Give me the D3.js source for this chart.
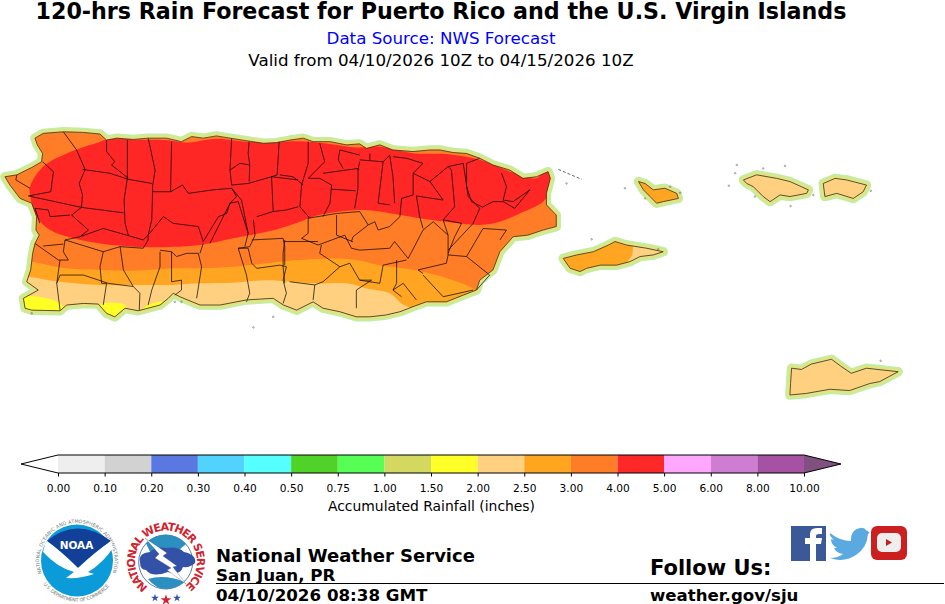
<!DOCTYPE html>
<html>
<meta charset="utf-8">
<title>120-hrs Rain Forecast for Puerto Rico and the U.S. Virgin Islands</title>
<style>
	body { margin: 0; background-color: #ffffff; }
	svg { display: block; }
	text { font-family: "DejaVu Sans", sans-serif; }
	.bold { font-weight: bold; }
	.tick text { font-size: 10.6px; }
</style>

<body>
	<div id="chart"></div>
</body>

<script src="https://d3js.org/d3.v7.min.js"></script>
<script>

	// Rainfall classes for the colorbar
	var tickLabels = ["0.00","0.10","0.20","0.30","0.40","0.50","0.75","1.00","1.50","2.00","2.50","3.00","4.00","5.00","6.00","8.00","10.00"];
	var classColors = ["#eeeeee","#d2d2d2","#5a78e2","#52d2ff","#55ffff","#50d228","#55ff55","#d2d860","#ffff28","#ffd080","#ffa520","#ff7d26","#ff2828","#ffa6ff","#cf7dd2","#a552a5"];
	var overColor = "#805080";

	// Coastlines, lon/lat
	var coastPR = [[-67.261,18.374],[-67.225,18.380],[-67.180,18.403],[-67.150,18.421],[-67.147,18.447],[-67.163,18.474],[-67.170,18.495],[-67.145,18.510],[-67.084,18.515],[-67.023,18.513],[-66.973,18.508],[-66.953,18.489],[-66.922,18.495],[-66.872,18.491],[-66.827,18.495],[-66.771,18.495],[-66.726,18.484],[-66.695,18.500],[-66.660,18.495],[-66.620,18.502],[-66.579,18.495],[-66.529,18.487],[-66.478,18.479],[-66.438,18.481],[-66.397,18.489],[-66.357,18.495],[-66.327,18.484],[-66.276,18.484],[-66.226,18.474],[-66.186,18.477],[-66.165,18.463],[-66.125,18.474],[-66.085,18.458],[-66.024,18.453],[-65.973,18.458],[-65.943,18.458],[-65.903,18.450],[-65.862,18.447],[-65.822,18.432],[-65.782,18.411],[-65.731,18.395],[-65.691,18.369],[-65.650,18.374],[-65.615,18.390],[-65.608,18.369],[-65.620,18.322],[-65.620,18.286],[-65.590,18.254],[-65.590,18.218],[-65.630,18.207],[-65.676,18.191],[-65.721,18.186],[-65.761,18.139],[-65.782,18.082],[-65.822,18.050],[-65.832,18.019],[-65.872,18.003],[-65.923,17.982],[-65.984,17.982],[-66.024,17.967],[-66.064,17.951],[-66.105,17.941],[-66.155,17.935],[-66.196,17.935],[-66.246,17.951],[-66.297,17.962],[-66.327,17.982],[-66.377,17.956],[-66.417,17.972],[-66.448,17.993],[-66.529,17.988],[-66.609,17.972],[-66.670,17.972],[-66.731,17.998],[-66.751,18.009],[-66.766,17.993],[-66.791,17.972],[-66.857,17.954],[-66.897,17.962],[-66.928,17.935],[-66.953,17.946],[-66.978,17.975],[-67.023,17.977],[-67.074,17.972],[-67.094,17.954],[-67.180,17.956],[-67.200,17.962],[-67.205,17.993],[-67.160,18.019],[-67.195,18.045],[-67.183,18.082],[-67.177,18.134],[-67.170,18.165],[-67.157,18.191],[-67.167,18.207],[-67.165,18.249],[-67.180,18.291],[-67.215,18.306],[-67.246,18.348]];
	var coastVieques = [[-65.569,18.118],[-65.528,18.129],[-65.478,18.139],[-65.432,18.160],[-65.412,18.171],[-65.377,18.160],[-65.316,18.150],[-65.266,18.139],[-65.296,18.129],[-65.336,18.124],[-65.367,18.108],[-65.407,18.097],[-65.457,18.097],[-65.498,18.087],[-65.518,18.077],[-65.548,18.087]];
	var coastCulebra = [[-65.341,18.359],[-65.321,18.353],[-65.296,18.333],[-65.261,18.338],[-65.225,18.322],[-65.220,18.306],[-65.266,18.296],[-65.286,18.291],[-65.306,18.312],[-65.326,18.333]];
	var coastStThomas = [[-65.023,18.364],[-64.983,18.380],[-64.922,18.369],[-64.882,18.359],[-64.826,18.333],[-64.831,18.322],[-64.882,18.312],[-64.912,18.317],[-64.942,18.296],[-64.963,18.312],[-64.993,18.343],[-65.013,18.353]];
	var coastStJohn = [[-64.781,18.353],[-64.745,18.369],[-64.710,18.364],[-64.650,18.348],[-64.660,18.327],[-64.690,18.306],[-64.740,18.322],[-64.776,18.312]];
	var coastStCroix = [[-64.877,17.774],[-64.847,17.770],[-64.817,17.787],[-64.756,17.802],[-64.726,17.779],[-64.696,17.758],[-64.650,17.774],[-64.554,17.763],[-64.610,17.732],[-64.640,17.726],[-64.701,17.704],[-64.761,17.708],[-64.832,17.695],[-64.882,17.690],[-64.880,17.726]];

	// Forecast rain areas, lon/lat contours
	var rain5to4 = [[-67.185,18.343],[-67.145,18.406],[-67.074,18.447],[-66.973,18.484],[-66.933,18.497],[-66.872,18.491],[-66.771,18.489],[-66.710,18.481],[-66.620,18.493],[-66.519,18.483],[-66.367,18.485],[-66.276,18.477],[-66.196,18.466],[-66.125,18.468],[-66.024,18.448],[-65.923,18.445],[-65.822,18.427],[-65.721,18.387],[-65.650,18.369],[-65.620,18.395],[-65.600,18.370],[-65.610,18.327],[-65.630,18.296],[-65.701,18.259],[-65.761,18.233],[-65.822,18.223],[-65.923,18.233],[-66.004,18.244],[-66.064,18.254],[-66.125,18.265],[-66.175,18.270],[-66.246,18.265],[-66.327,18.249],[-66.367,18.233],[-66.428,18.212],[-66.468,18.202],[-66.569,18.181],[-66.670,18.160],[-66.791,18.153],[-66.872,18.155],[-66.963,18.163],[-67.054,18.181],[-67.124,18.207],[-67.165,18.249],[-67.185,18.317]];
	var rain3to4 = [[-67.260,18.111],[-67.185,18.108],[-67.074,18.087],[-66.973,18.082],[-66.852,18.080],[-66.751,18.087],[-66.670,18.087],[-66.569,18.092],[-66.468,18.103],[-66.428,18.108],[-66.367,18.113],[-66.276,18.118],[-66.196,18.113],[-66.125,18.097],[-66.054,18.087],[-65.973,18.071],[-65.903,18.050],[-65.842,18.024],[-65.810,17.990],[-65.900,17.880],[-67.260,17.880]];
	var rain2to3 = [[-67.260,18.066],[-67.190,18.061],[-67.094,18.045],[-66.973,18.035],[-66.852,18.035],[-66.751,18.035],[-66.670,18.040],[-66.569,18.042],[-66.468,18.050],[-66.327,18.040],[-66.226,18.040],[-66.165,18.024],[-66.095,18.009],[-66.059,17.977],[-66.024,17.956],[-66.000,17.880],[-67.260,17.880]];
	var rainYellow = [
		[[-67.225,17.993],[-67.094,17.977],[-67.080,17.930],[-67.225,17.930]],
		[[-66.973,17.972],[-66.897,17.972],[-66.892,17.935],[-66.973,17.925]],
		[[-66.842,17.962],[-66.781,17.982],[-66.781,17.956],[-66.842,17.935]]
	];
	var rainViequesEast = [[-65.350,18.180],[-65.200,18.180],[-65.200,18.080],[-65.380,18.090],[-65.360,18.130]];

	// Municipality borders, lon/lat
	var countyLines = [
		[[-67.084,18.515],[-67.044,18.458],[-67.018,18.397],[-67.036,18.353],[-67.026,18.317],[-67.029,18.278],[-67.059,18.254],[-67.008,18.207]],
		[[-67.147,18.421],[-67.114,18.390],[-67.122,18.327],[-67.190,18.314]],
		[[-67.225,18.380],[-67.228,18.364],[-67.185,18.338]],
		[[-67.026,18.397],[-66.943,18.385],[-66.887,18.366],[-66.816,18.353]],
		[[-66.953,18.489],[-66.953,18.453],[-66.928,18.421],[-66.938,18.411],[-66.912,18.390],[-66.887,18.369]],
		[[-66.890,18.489],[-66.890,18.369],[-66.900,18.301],[-66.897,18.228],[-66.887,18.191]],
		[[-66.827,18.495],[-66.806,18.395],[-66.813,18.348],[-66.816,18.239],[-66.827,18.191],[-66.827,18.176]],
		[[-66.756,18.484],[-66.759,18.327],[-66.723,18.348],[-66.705,18.322],[-66.630,18.333],[-66.574,18.338]],
		[[-66.813,18.327],[-66.759,18.327]],
		[[-66.574,18.495],[-66.579,18.395],[-66.574,18.348],[-66.524,18.353],[-66.453,18.374]],
		[[-66.521,18.484],[-66.524,18.447],[-66.519,18.411],[-66.549,18.416],[-66.579,18.395]],
		[[-66.519,18.411],[-66.521,18.359]],
		[[-66.430,18.484],[-66.436,18.380],[-66.453,18.374],[-66.448,18.265],[-66.408,18.270],[-66.372,18.280]],
		[[-66.453,18.374],[-66.372,18.364]],
		[[-67.190,18.314],[-67.029,18.278],[-66.902,18.261]],
		[[-67.170,18.275],[-67.130,18.270],[-67.124,18.249],[-67.064,18.254]],
		[[-67.170,18.275],[-67.155,18.228]],
		[[-67.034,18.186],[-66.963,18.212],[-66.892,18.191],[-66.842,18.176],[-66.827,18.191],[-66.781,18.249],[-66.751,18.228],[-66.675,18.218],[-66.660,18.171]],
		[[-67.008,18.207],[-67.034,18.186],[-67.079,18.176],[-67.084,18.139],[-67.069,18.113],[-67.099,18.113],[-67.170,18.165]],
		[[-67.145,18.157],[-67.084,18.163]],
		[[-67.079,18.176],[-66.963,18.139],[-66.912,18.155],[-66.842,18.150],[-66.827,18.176]],
		[[-66.963,18.139],[-66.973,18.092],[-66.968,18.040],[-66.953,18.040],[-66.963,17.972]],
		[[-66.912,18.155],[-66.902,18.082],[-66.872,18.030],[-66.852,18.009],[-66.854,17.956]],
		[[-67.094,18.113],[-67.104,18.040],[-67.094,17.956]],
		[[-67.104,18.040],[-67.094,18.066],[-67.023,18.066],[-66.948,18.040],[-66.872,18.030]],
		[[-66.791,18.139],[-66.791,18.092],[-66.816,18.019],[-66.827,17.972]],
		[[-66.756,18.139],[-66.756,18.045],[-66.726,18.050],[-66.726,18.019],[-66.746,18.003]],
		[[-66.791,18.144],[-66.756,18.139],[-66.741,18.124],[-66.710,18.134],[-66.675,18.134],[-66.665,18.092],[-66.680,17.993]],
		[[-66.660,18.165],[-66.670,18.134]],
		[[-66.554,18.150],[-66.529,18.066],[-66.519,18.009],[-66.529,17.982]],
		[[-66.660,18.171],[-66.614,18.249],[-66.589,18.259],[-66.579,18.291],[-66.554,18.296],[-66.524,18.197],[-66.534,18.155]],
		[[-66.574,18.338],[-66.544,18.301],[-66.524,18.197]],
		[[-66.574,18.338],[-66.559,18.312],[-66.579,18.291],[-66.640,18.165]],
		[[-66.508,18.239],[-66.503,18.191],[-66.519,18.155],[-66.554,18.150],[-66.524,18.150],[-66.513,18.103],[-66.498,18.087],[-66.428,18.097],[-66.408,18.092],[-66.418,18.050],[-66.408,18.009],[-66.418,17.977]],
		[[-66.498,18.249],[-66.448,18.265]],
		[[-66.513,18.176],[-66.418,18.181],[-66.413,18.155],[-66.413,18.097]],
		// eastern half
		[[-66.342,18.484],[-66.342,18.416],[-66.362,18.348],[-66.367,18.280],[-66.337,18.244]],
		[[-66.428,18.380],[-66.388,18.374],[-66.357,18.348]],
		[[-66.307,18.479],[-66.292,18.421],[-66.342,18.369],[-66.307,18.369],[-66.271,18.348],[-66.276,18.291],[-66.297,18.249]],
		[[-66.297,18.385],[-66.191,18.400],[-66.191,18.338],[-66.201,18.275]],
		[[-66.271,18.335],[-66.198,18.330]],
		[[-66.246,18.458],[-66.251,18.427],[-66.236,18.400]],
		[[-66.246,18.458],[-66.186,18.442]],
		[[-66.186,18.421],[-66.191,18.395]],
		[[-66.186,18.427],[-66.115,18.421],[-66.130,18.291],[-66.095,18.286]],
		[[-66.115,18.421],[-66.095,18.442],[-66.085,18.374],[-66.080,18.291]],
		[[-66.155,18.447],[-66.155,18.427]],
		[[-66.085,18.437],[-66.044,18.432],[-65.994,18.416],[-66.024,18.385],[-66.024,18.317],[-66.059,18.306],[-66.064,18.249],[-66.095,18.218],[-66.130,18.207],[-66.140,18.233],[-66.160,18.223],[-66.186,18.265]],
		[[-66.024,18.385],[-65.973,18.359],[-65.933,18.301],[-66.014,18.314],[-66.004,18.249],[-65.994,18.212]],
		[[-65.918,18.406],[-65.872,18.416],[-65.857,18.312],[-65.822,18.275],[-65.842,18.228],[-65.918,18.144]],
		[[-65.973,18.359],[-65.918,18.406],[-65.908,18.396],[-65.898,18.280],[-65.933,18.239],[-65.918,18.191]],
		[[-65.933,18.239],[-65.877,18.228],[-65.898,18.186],[-65.918,18.134]],
		[[-65.822,18.432],[-65.862,18.416],[-65.862,18.343],[-65.847,18.296],[-65.812,18.278]],
		[[-65.812,18.280],[-65.782,18.296],[-65.751,18.296],[-65.716,18.275],[-65.670,18.333]],
		[[-65.756,18.385],[-65.741,18.343],[-65.751,18.301],[-65.721,18.296],[-65.670,18.333]],
		[[-66.342,18.244],[-66.256,18.259],[-66.186,18.265]],
		[[-66.256,18.254],[-66.256,18.191],[-66.206,18.170]],
		[[-66.342,18.244],[-66.342,18.197],[-66.362,18.181],[-66.312,18.160],[-66.231,18.191],[-66.211,18.150],[-66.186,18.144],[-66.095,18.150],[-66.080,18.171],[-66.039,18.118]],
		[[-66.211,18.171],[-66.206,18.186],[-66.160,18.223]],
		[[-66.413,18.176],[-66.418,18.134],[-66.418,18.092],[-66.413,18.040]],
		[[-66.413,18.171],[-66.312,18.171]],
		[[-66.302,18.160],[-66.307,18.134],[-66.246,18.092],[-66.216,18.103],[-66.186,18.050],[-66.125,18.040],[-66.115,18.097],[-66.044,18.113]],
		[[-66.039,18.118],[-65.994,18.207],[-65.963,18.233],[-65.918,18.191],[-65.918,18.129],[-65.923,18.103],[-66.009,18.082],[-65.994,18.071]],
		[[-65.918,18.129],[-65.862,18.124],[-65.792,18.066],[-65.832,18.019]],
		[[-65.862,18.124],[-65.812,18.212],[-65.741,18.207],[-65.761,18.176]],
		[[-66.074,18.113],[-66.074,18.040],[-66.085,18.019],[-66.054,18.040],[-66.014,17.988]],
		[[-66.186,18.050],[-66.150,18.050],[-66.196,18.019],[-66.196,17.962]],
		[[-66.246,18.092],[-66.297,18.045],[-66.322,18.035],[-66.327,17.988]],
		[[-65.994,18.066],[-65.933,17.998],[-65.842,18.019]],
		[[-66.398,18.045],[-66.322,18.035]],
		[[-66.085,18.019],[-66.059,17.998]]
	];

	// Small cays, lon/lat
	var cays = [[-65.043,18.411],[-64.963,18.400],[-64.897,18.408],[-65.048,18.385],[-65.067,18.346],[-64.988,18.312],[-64.880,18.282],[-65.245,18.343],[-65.215,18.324],[-65.321,18.306],[-65.382,18.338],[-65.559,18.353],[-64.811,18.317],[-64.637,18.330],[-65.483,18.178],[-65.281,18.147],[-64.607,17.797],[-66.508,17.902],[-67.180,17.946],[-66.746,17.982],[-66.726,17.982],[-66.448,17.935]];
	var caysChain = [[-65.584,18.397],[-65.513,18.366]];

	var otherIslands = [coastVieques, coastCulebra, coastStThomas, coastStJohn, coastStCroix];
	var allIslands = [coastPR].concat(otherIslands);

	// Define svg object
	var svg = d3.select("#chart").append("svg")
		.attr("width", 945)
		.attr("height", 604);

	var defs = svg.append("defs");
	defs.append("filter").attr("id", "soft").append("feGaussianBlur").attr("stdDeviation", 0.6);
	defs.append("filter").attr("id", "softer").append("feGaussianBlur").attr("stdDeviation", 0.25);

	// Map scales
	var x = d3.scaleLinear().domain([-67.276, -64.412]).range([0, 945]),
		y = d3.scaleLinear().domain([18.928, 17.035]).range([0, 604]);

	var coastLine = d3.line().x(function (d) { return x(d[0]); }).y(function (d) { return y(d[1]); })
		.curve(d3.curveLinearClosed);
	var rainLine = d3.line().x(function (d) { return x(d[0]); }).y(function (d) { return y(d[1]); })
		.curve(d3.curveCatmullRomClosed.alpha(0.5));
	var openLine = d3.line().x(function (d) { return x(d[0]); }).y(function (d) { return y(d[1]); });

	svg.append("clipPath").attr("id", "land")
		.selectAll("path").data(allIslands).enter().append("path").attr("d", coastLine);

	var map = svg.append("g").attr("filter", "url(#softer)");

	// Low rain fringe around the coast
	var fringe = map.append("g").attr("filter", "url(#soft)");
	[["#c3eda0", 9.5], ["#dfe67e", 5.5], ["#fdd488", 2.5]].forEach(function (halo) {
		fringe.append("g").selectAll("path").data(allIslands).enter().append("path")
			.attr("d", coastLine)
			.attr("fill", "none")
			.attr("stroke", halo[0])
			.attr("stroke-width", halo[1])
			.attr("stroke-linejoin", "round");
	});

	// Rain areas
	var rain = map.append("g").attr("clip-path", "url(#land)");
	rain.append("path").attr("d", coastLine(coastPR)).attr("fill", classColors[11]);
	rain.append("path").attr("d", rainLine(rain3to4)).attr("fill", classColors[10]);
	rain.append("path").attr("d", rainLine(rain2to3)).attr("fill", classColors[9]);
	rain.selectAll(".yellow").data(rainYellow).enter().append("path").attr("class", "yellow")
		.attr("d", rainLine).attr("fill", classColors[8]);
	rain.append("path").attr("d", rainLine(rain5to4)).attr("fill", classColors[12]);
	rain.append("path").attr("d", coastLine(coastVieques)).attr("fill", classColors[10]);
	rain.append("path").attr("d", rainLine(rainViequesEast)).attr("fill", classColors[9]);
	rain.append("path").attr("d", coastLine(coastCulebra)).attr("fill", classColors[10]);
	rain.selectAll(".vi").data([coastStThomas, coastStJohn, coastStCroix]).enter().append("path").attr("class", "vi")
		.attr("d", coastLine).attr("fill", classColors[9]);

	// Borders and coast
	map.append("g").selectAll("path").data(countyLines).enter().append("path")
		.attr("d", openLine)
		.attr("fill", "none")
		.attr("stroke", "#000000")
		.attr("stroke-width", 0.7);
	map.append("g").selectAll("path").data(allIslands).enter().append("path")
		.attr("d", coastLine)
		.attr("fill", "none")
		.attr("stroke", "#163c16")
		.attr("stroke-width", 0.8);
	map.append("g").selectAll("circle").data(cays).enter().append("circle")
		.attr("cx", function (d) { return x(d[0]); })
		.attr("cy", function (d) { return y(d[1]); })
		.attr("r", 0.8)
		.attr("fill", "none")
		.attr("stroke", "#555555")
		.attr("stroke-width", 0.5);
	map.append("path").attr("d", openLine(caysChain))
		.attr("fill", "none").attr("stroke", "#222222").attr("stroke-width", 0.7).attr("stroke-dasharray", "3 2");

	// Titles
	svg.append("text").attr("class", "bold").attr("x", 441).attr("y", 18.5).attr("text-anchor", "middle")
		.style("font-size", "22.2px").text("120-hrs Rain Forecast for Puerto Rico and the U.S. Virgin Islands");
	svg.append("text").attr("x", 441).attr("y", 44).attr("text-anchor", "middle").attr("fill", "#0000ff")
		.style("font-size", "16.7px").text("Data Source: NWS Forecast");
	svg.append("text").attr("x", 441).attr("y", 66).attr("text-anchor", "middle")
		.style("font-size", "16.7px").text("Valid from 04/10/2026 10Z to 04/15/2026 10Z");

	// Colorbar
	var barX = d3.scalePoint().domain(tickLabels).range([58, 804]);
	var barTop = 455, barBottom = 473, barMid = 464, tip = 37;
	var bar = svg.append("g");

	bar.selectAll("rect").data(classColors).enter().append("rect")
		.attr("x", function (d, i) { return barX(tickLabels[i]); })
		.attr("y", barTop)
		.attr("width", function (d, i) { return barX(tickLabels[i + 1]) - barX(tickLabels[i]); })
		.attr("height", barBottom - barTop)
		.attr("fill", function (d) { return d; });
	bar.append("path")
		.attr("d", "M" + barX.range()[1] + "," + barTop + "L" + (barX.range()[1] + tip) + "," + barMid + "L" + barX.range()[1] + "," + barBottom + "Z")
		.attr("fill", overColor);
	bar.append("path")
		.attr("d", "M" + barX.range()[0] + "," + barTop + "L" + barX.range()[1] + "," + barTop + "L" + (barX.range()[1] + tip) + "," + barMid + "L" + barX.range()[1] + "," + barBottom + "L" + barX.range()[0] + "," + barBottom + "L" + (barX.range()[0] - tip) + "," + barMid + "Z")
		.attr("fill", "none")
		.attr("stroke", "#000000")
		.attr("stroke-width", 1);

	var barAxis = d3.axisBottom(barX).tickSize(3.5).tickPadding(8);
	bar.append("g").attr("transform", "translate(0," + barBottom + ")").call(barAxis)
		.call(function (g) { g.select(".domain").remove(); });
	bar.selectAll(".tick text").style("font-family", "DejaVu Sans").attr("fill", "#000000");

	svg.append("text").attr("x", 431.5).attr("y", 511).attr("text-anchor", "middle")
		.style("font-size", "13.9px").text("Accumulated Rainfall (inches)");

	// Footer text
	svg.append("text").attr("class", "bold").attr("x", 216).attr("y", 562).style("font-size", "18px").text("National Weather Service");
	svg.append("text").attr("class", "bold").attr("x", 216).attr("y", 581).style("font-size", "16.7px").text("San Juan, PR");
	svg.append("text").attr("class", "bold").attr("x", 216).attr("y", 601).style("font-size", "16.7px").text("04/10/2026 08:38 GMT");
	svg.append("text").attr("class", "bold").attr("x", 650).attr("y", 575).style("font-size", "21px").text("Follow Us:");
	svg.append("text").attr("class", "bold").attr("x", 650).attr("y", 601).style("font-size", "16.6px").text("weather.gov/sju");
	svg.append("line").attr("x1", 216).attr("x2", 944).attr("y1", 583.5).attr("y2", 583.5)
		.attr("stroke", "#000000").attr("stroke-width", 1);

	// Text on a circle, for the two logos
	function ringText(group, id, cx, cy, r, a0, a1, size, color, weight, str, length) {
		var p = d3.path();
		p.arc(cx, cy, r, a0, a1, a1 < a0);
		group.append("path").attr("id", id).attr("d", p.toString()).attr("fill", "none");
		group.append("text").style("font-size", size + "px").style("font-weight", weight).attr("fill", color)
			.append("textPath").attr("href", "#" + id).attr("textLength", length).attr("lengthAdjust", "spacing").text(str);
	}
	var rad = Math.PI / 180;

	// NOAA logo
	var noaa = svg.append("g");
	ringText(noaa, "noaaTop", 77, 560.5, 37.5, 160 * rad, 380 * rad, 4.8, "#777777", "normal", "NATIONAL OCEANIC AND ATMOSPHERIC ADMINISTRATION", 143);
	ringText(noaa, "noaaBottom", 77, 560.5, 41, 145 * rad, 35 * rad, 4.8, "#777777", "normal", "U.S. DEPARTMENT OF COMMERCE", 76);
	noaa.append("circle").attr("cx", 77).attr("cy", 560.5).attr("r", 36).attr("fill", "#0a9bd8");
	noaa.append("path").attr("d", "M47,541 Q77,516 111,541 Q95,552 78,568 Q62,552 47,541 Z").attr("fill", "#123f98");
	noaa.append("path").attr("d", "M45,544 L47,541 Q62,552 78,568 Q95,552 111,541 L113,548 Q102,564 88,572 L94,574 Q80,579 66,578 L74,572 Q58,568 43,552 Z").attr("fill", "#ffffff");
	noaa.append("text").attr("class", "bold").attr("x", 76.5).attr("y", 549).attr("text-anchor", "middle").attr("fill", "#ffffff")
		.style("font-size", "10.5px").text("NOAA");

	// NWS logo
	var nws = svg.append("g");
	ringText(nws, "nwsRing", 166, 561.5, 31, 125 * rad, 415 * rad, 11, "#d2232f", "bold", "NATIONAL WEATHER SERVICE", 155);
	nws.append("circle").attr("cx", 165.7).attr("cy", 562).attr("r", 27).attr("fill", "#ffffff").attr("stroke", "#2d5f9a").attr("stroke-width", 0.8);
	nws.append("path").attr("d", "M146,543 A27,27 0 0,1 186,544 L172,556 L150,552 Z").attr("fill", "#2b8fbf");
	nws.append("path").attr("d", "M140,562 Q138,553 150,552 Q156,546 166,548 Q178,546 184,552 Q197,555 195,563 Q190,568 183,567 Q180,576 168,572 Q152,578 146,570 Q140,570 140,562 Z").attr("fill", "#3451a8");
	nws.append("path").attr("d", "M148,579 Q165,574 185,582 Q175,589 166,589 Q156,589 148,579 Z").attr("fill", "#2b8fbf");
	nws.append("path").attr("d", "M145,538 L167,553 L163,556 L177,566 L173,567 L186,584 L167,570 L171,568 L155,558 L159,554 Z").attr("fill", "#ffffff").attr("stroke", "#24408f").attr("stroke-width", 0.3);
	nws.selectAll(".star").data([[155, 598, "#3451a8", 2.2], [166, 600, "#d2232f", 3], [177, 598, "#3451a8", 2.2]]).enter().append("path")
		.attr("class", "star")
		.attr("transform", function (d) { return "translate(" + d[0] + "," + d[1] + ")"; })
		.attr("d", function (d) { return d3.symbol().type(d3.symbolStar).size(d[3] * d[3] * 4)(); })
		.attr("fill", function (d) { return d[2]; });

	// Social icons
	var social = svg.append("g");
	social.append("rect").attr("x", 791).attr("y", 526).attr("width", 35).attr("height", 35).attr("fill", "#3b5998");
	social.append("path").attr("d", "M810,561 L810,544 L805,544 L805,538 L810,538 L810,534 Q810,528 817,528 L822,528 L822,534 L819,534 Q816,534 816,536 L816,538 L822,538 L821,544 L816,544 L816,561 Z").attr("fill", "#ffffff");
	social.append("path").attr("d", "M830,533 Q840,541 851,541 Q850,530 860,528 Q864,527 867,531 Q870,530 868,532 Q871,532 868,534 Q867,548 856,555 Q844,563 830,558 Q838,558 843,554 Q836,553 834,548 L837,548 Q831,545 831,539 L834,540 Q829,536 830,533 Z").attr("fill", "#5aa9e0");
	social.append("rect").attr("x", 871).attr("y", 526).attr("width", 36).attr("height", 34).attr("rx", 6).attr("fill", "#cc2020");
	social.append("rect").attr("x", 877).attr("y", 533).attr("width", 24).attr("height", 19).attr("rx", 5).attr("fill", "#eeeeee");
	social.append("path").attr("d", "M886,539 L892,542.5 L886,546 Z").attr("fill", "#c21f1f");

</script>
